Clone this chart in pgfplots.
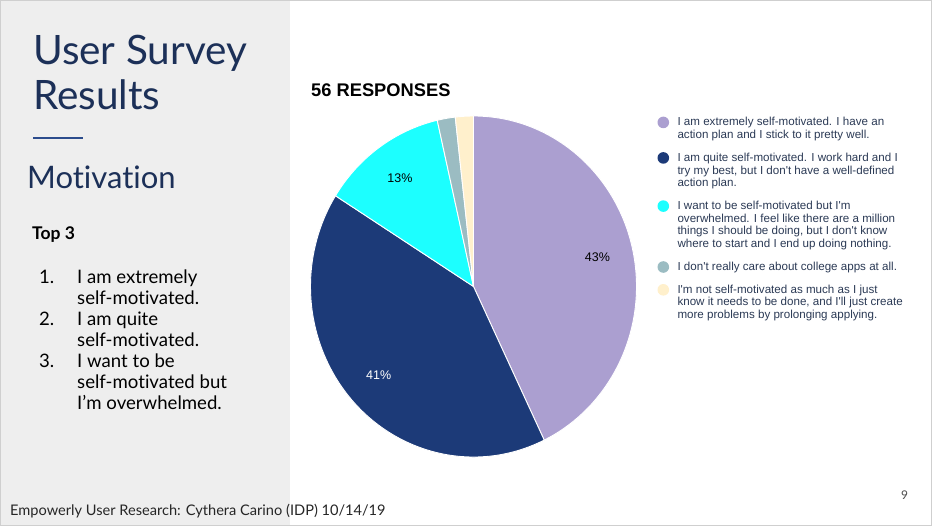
\documentclass[border=0pt]{standalone}
\usepackage{pgfplots}
\pgfplotsset{compat=1.18}
\usepackage{fontspec}
\setmainfont{Lato}[Ligatures={TeX,NoCommon}]
\newfontfamily\chartfont{Liberation Sans}

\definecolor{panel}{HTML}{EEEEEE}
\definecolor{frameline}{HTML}{CFCFCF}
\definecolor{navytitle}{HTML}{1C3058}
\definecolor{ruleblue}{HTML}{2B4C8C}
\definecolor{legendtext}{HTML}{2B3A55}
\definecolor{cpurple}{HTML}{AB9FD0}
\definecolor{cnavy}{HTML}{1C3A78}
\definecolor{ccyan}{HTML}{1CFFFF}
\definecolor{cgrey}{HTML}{9BBCC2}
\definecolor{ccream}{HTML}{FFF0CC}

\begin{document}
\begin{tikzpicture}
% slide background and left panel
\fill[white] (0pt,0pt) rectangle (932pt,526pt);
\fill[panel] (0pt,0pt) rectangle (290pt,526pt);
\draw[frameline, line width=1.2pt] (0.6pt,0.6pt) rectangle (931.4pt,525.4pt);

% left panel text
\node[anchor=base west, inner sep=0pt, text=navytitle, font=\fontsize{40.5}{46}\selectfont] at (33pt,461.7pt) {User Survey};
\node[anchor=base west, inner sep=0pt, text=navytitle, font=\fontsize{40.5}{46}\selectfont] at (33pt,416pt) {Results};
\draw[ruleblue, line width=2pt] (33pt,388pt) -- (83pt,388pt);
\node[anchor=base west, inner sep=0pt, text=navytitle, font=\fontsize{31}{36}\selectfont] at (27pt,337pt) {Motivation};
\node[anchor=base west, inner sep=0pt, font=\bfseries\fontsize{17.5}{20}\selectfont] at (32pt,286pt) {Top 3};
\foreach \y/\t in {284/I am extremely, 305/self-motivated., 326/I am quite, 347/self-motivated., 368/I want to be, 389/self-motivated but, 410/I'm overwhelmed.}
  \node[anchor=base west, inner sep=0pt, font=\fontsize{18.6}{21}\selectfont] at (77pt,{(526-\y)*1pt}) {\t};
\foreach \y/\t in {284/1., 326/2., 368/3.}
  \node[anchor=base west, inner sep=0pt, font=\fontsize{18.6}{21}\selectfont] at (39pt,{(526-\y)*1pt}) {\t};

% footer
\node[anchor=base west, inner sep=0pt, text=black!85, font=\fontsize{14.6}{16}\selectfont] at (10pt,10pt) {Empowerly User Research: Cythera Carino (IDP) 10/14/19};
\node[anchor=base west, inner sep=0pt, text=black!70, font=\fontsize{12}{14}\selectfont] at (901pt,26pt) {9};

% chart heading
\node[anchor=base west, inner sep=0pt, font=\chartfont\bfseries\fontsize{18.3}{21}\selectfont] at (311pt,429.3pt) {56 RESPONSES};

\begin{axis}[
  at={(310.5pt,69pt)}, anchor=south west,
  scale only axis, width=326pt, height=341pt,
  xmin=-1, xmax=1, ymin=-1, ymax=1,
  hide axis, clip=false,
  legend image code/.code={\fill[#1, draw=none] (0pt,3.4pt) circle[radius=5.8pt];},
  legend style={
    at={(1.0644,0.9982)}, anchor=north west,
    draw=none, fill=none, inner sep=0pt, outer sep=0pt,
    font=\chartfont\fontsize{11.6}{12.7}\selectfont, text=legendtext,
    cells={anchor=base west},
    nodes={inner sep=0pt, text height=8.9pt, text depth=3.8pt},
    column sep=8.4pt, row sep=0pt,
  },
]
\addlegendimage{fill=cpurple, draw=none}
\addlegendentry{I am extremely self-motivated. I have an}
\addlegendimage{empty legend}
\addlegendentry[text depth=13.6pt]{action plan and I stick to it pretty well.}
\addlegendimage{fill=cnavy, draw=none}
\addlegendentry{I am quite self-motivated. I work hard and I}
\addlegendimage{empty legend}
\addlegendentry{try my best, but I don't have a well-defined}
\addlegendimage{empty legend}
\addlegendentry[text depth=13.6pt]{action plan.}
\addlegendimage{fill=ccyan, draw=none}
\addlegendentry{I want to be self-motivated but I'm}
\addlegendimage{empty legend}
\addlegendentry{overwhelmed. I feel like there are a million}
\addlegendimage{empty legend}
\addlegendentry{things I should be doing, but I don't know}
\addlegendimage{empty legend}
\addlegendentry[text depth=13.6pt]{where to start and I end up doing nothing.}
\addlegendimage{fill=cgrey, draw=none}
\addlegendentry[text depth=13.6pt]{I don't really care about college apps at all.}
\addlegendimage{fill=ccream, draw=none}
\addlegendentry{I'm not self-motivated as much as I just}
\addlegendimage{empty legend}
\addlegendentry{know it needs to be done, and I'll just create}
\addlegendimage{empty legend}
\addlegendentry{more problems by prolonging applying.}

% pie slices: responses per answer (56 in total), clockwise from the top
\pgfplotsextra{
  \xdef\curA{90}
  \foreach \n/\c/\lab/\tc in {24/cpurple/43\%/black, 23/cnavy/41\%/white, 7/ccyan/13\%/black, 1/cgrey//black, 1/ccream//black} {
    \pgfmathsetmacro\e{\curA-\n*360/56}
    \pgfmathsetmacro\m{(\curA+\e)/2}
    \fill[\c, draw=white, line width=0.9pt, line join=round]
      (axis cs:0,0) -- (axis cs:{cos(\curA)},{sin(\curA)})
      arc[start angle=\curA, end angle=\e, x radius=163pt, y radius=170.5pt] -- cycle;
    \node[text=\tc, font=\chartfont\fontsize{12.5}{14}\selectfont] at (axis cs:{0.78*cos(\m)},{0.78*sin(\m)}) {\lab};
    \xdef\curA{\e}
  }
}
\end{axis}
\end{tikzpicture}
\end{document}
